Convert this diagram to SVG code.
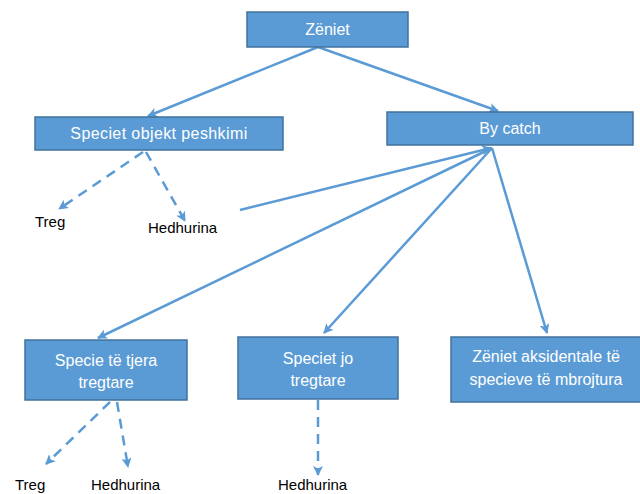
<svg xmlns="http://www.w3.org/2000/svg" width="640" height="494" viewBox="0 0 640 494">
<style>
.box{fill:#5b9bd5;stroke:#41719c;stroke-width:1.5}
.bt{font-family:"Liberation Sans",Arial,sans-serif;font-size:16px;fill:#ffffff;text-anchor:middle}
.lt{font-family:"Liberation Sans",Arial,sans-serif;font-size:15px;fill:#000000}
.ln{stroke:#5b9bd5;stroke-width:2.5;fill:none;marker-end:url(#ah)}
.dl{stroke:#5b9bd5;stroke-width:2.5;fill:none;stroke-dasharray:10 7;marker-end:url(#ah)}
</style>
<defs>
<marker id="ah" viewBox="0 0 10 10" refX="9" refY="5" markerWidth="4" markerHeight="4" orient="auto" markerUnits="strokeWidth">
<path d="M0,0 L10,5 L0,10 L2.5,5 z" fill="#5b9bd5"/>
</marker>
</defs>
<rect width="640" height="494" fill="#ffffff"/>
<g id="connectors">
<line class="ln" x1="318" y1="47" x2="148" y2="116"/>
<line class="ln" x1="318" y1="47" x2="498" y2="111"/>
<line class="ln" x1="240" y1="210" x2="491" y2="148"/>
<line class="ln" x1="492" y1="148" x2="98" y2="338"/>
<line class="ln" x1="492" y1="148" x2="324" y2="333"/>
<line class="ln" x1="492" y1="148" x2="547" y2="333"/>
<line class="dl" x1="143" y1="152" x2="59" y2="209"/>
<line class="dl" x1="146" y1="152" x2="185" y2="221"/>
<line class="dl" x1="110" y1="402" x2="46" y2="464"/>
<line class="dl" x1="117" y1="402" x2="128" y2="467"/>
<line class="dl" x1="318" y1="400" x2="318" y2="475"/>
</g>
<g id="zeniet"><rect class="box" x="247" y="12" width="161" height="35"/><text class="bt" x="327.5" y="35">Zëniet</text></g>
<g id="speciet-objekt"><rect class="box" x="35" y="117" width="248" height="33"/><text class="bt" x="159" y="139" letter-spacing="0.4">Speciet objekt peshkimi</text></g>
<g id="bycatch"><rect class="box" x="387" y="112" width="246" height="33"/><text class="bt" x="510" y="134">By catch</text></g>
<g id="treg1"><text class="lt" x="35" y="227">Treg</text></g>
<g id="hedhurina1"><text class="lt" x="148" y="233">Hedhurina</text></g>
<g id="specie-tjera"><rect class="box" x="25" y="340" width="162" height="60"/><text class="bt" x="106" y="366">Specie të tjera</text><text class="bt" x="106" y="388">tregtare</text></g>
<g id="speciet-jo"><rect class="box" x="238" y="337" width="160" height="62"/><text class="bt" x="318" y="364">Speciet jo</text><text class="bt" x="318" y="386">tregtare</text></g>
<g id="zeniet-aksidentale"><rect class="box" x="451" y="337" width="192" height="65"/><text class="bt" x="546" y="362">Zëniet aksidentale të</text><text class="bt" x="546" y="385">specieve të mbrojtura</text></g>
<g id="treg2"><text class="lt" x="15" y="490">Treg</text></g>
<g id="hedhurina2"><text class="lt" x="91" y="490">Hedhurina</text></g>
<g id="hedhurina3"><text class="lt" x="278" y="490">Hedhurina</text></g>
</svg>
